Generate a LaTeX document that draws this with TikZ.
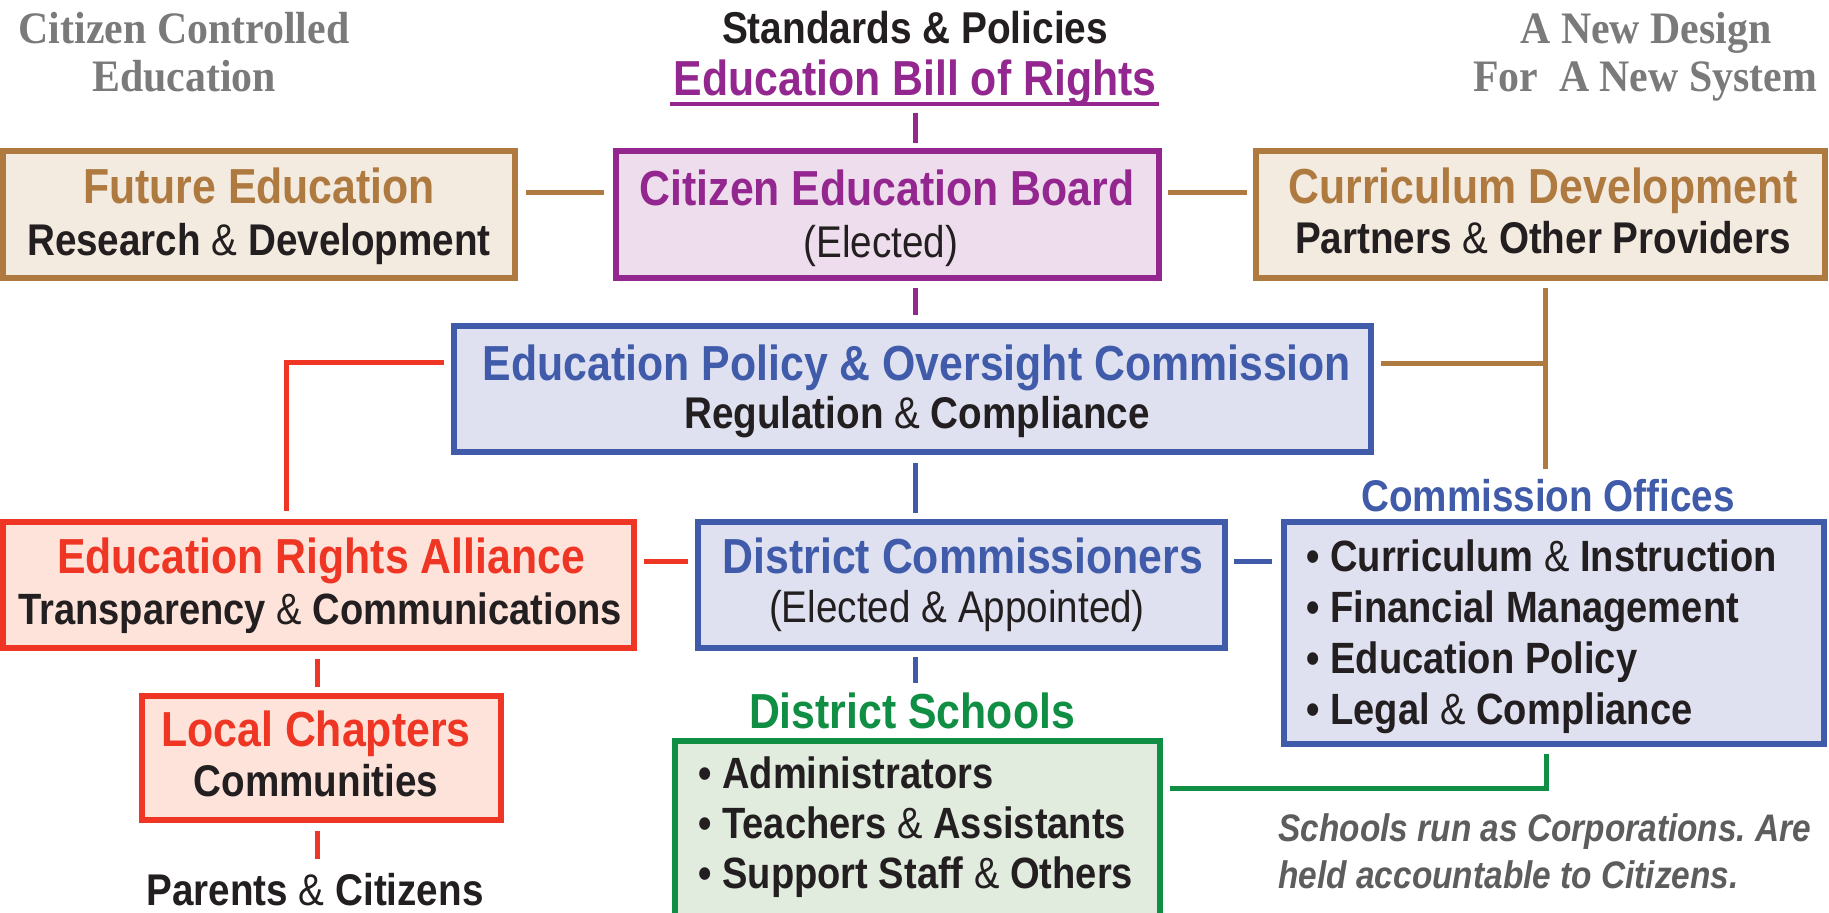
\documentclass[tikz,border=0pt]{standalone}
\usepackage{fontspec}
\setmainfont{Liberation Sans}[FakeStretch=0.87]
\newfontfamily\serifhead{Liberation Serif}[FakeStretch=0.93]
\frenchspacing
\definecolor{cbrown}{HTML}{AE7A40}
\definecolor{fbrown}{HTML}{F3EAE0}
\definecolor{cpurple}{HTML}{93278F}
\definecolor{fpurple}{HTML}{EEDEED}
\definecolor{cblue}{HTML}{3F5BA9}
\definecolor{fblue}{HTML}{DFE1F1}
\definecolor{cred}{HTML}{EF3524}
\definecolor{fred}{HTML}{FDE3D9}
\definecolor{cgreen}{HTML}{108E44}
\definecolor{fgreen}{HTML}{E1ECDF}
\definecolor{cblack}{HTML}{231F20}
\definecolor{cgrayhead}{HTML}{7A7A7A}
\definecolor{cgraynote}{HTML}{5D5D5D}
\begin{document}
\begin{tikzpicture}[x=0.5pt,y=-0.5pt,
  orgbox/.style={draw, line width=3pt, outer sep=1.5pt, inner sep=0pt},
  brownbox/.style={orgbox, draw=cbrown, fill=fbrown},
  purplebox/.style={orgbox, draw=cpurple, fill=fpurple},
  bluebox/.style={orgbox, draw=cblue, fill=fblue},
  redbox/.style={orgbox, draw=cred, fill=fred},
  greenbox/.style={orgbox, draw=cgreen, fill=fgreen},
  ttl/.style={anchor=base, inner sep=0pt, font=\fontsize{24.6}{26}\selectfont\bfseries},
  sub/.style={anchor=base, inner sep=0pt, text=cblack, font=\fontsize{22.2}{24}\selectfont},
  item/.style={anchor=base west, inner sep=0pt, text=cblack, font=\fontsize{21.9}{24}\selectfont},
  head/.style={anchor=base, inner sep=0pt, text=cgrayhead, font=\fontsize{22.5}{24}\selectfont\serifhead\bfseries},
  note/.style={anchor=base west, inner sep=0pt, text=cgraynote, font=\fontsize{19.2}{21}\selectfont\bfseries\itshape},
  conn/.style={line width=2.5pt, line join=miter, line cap=butt},
  pconn/.style={conn, draw=cpurple},
  bconn/.style={conn, draw=cblue},
  brconn/.style={conn, draw=cbrown},
  rconn/.style={conn, draw=cred},
  gconn/.style={conn, draw=cgreen}]
\useasboundingbox (0,0) rectangle (1829,912);

% corner headings
\node[head] (h1) at (184,43) {Citizen Controlled};
\node[head] (h2) at (184,91) {Education};
\node[head] (h3) at (1646,43) {A New Design};
\node[head] (h4) at (1645,91) {For\ \ A New System};

% top titles
\node[sub, font=\fontsize{22.3}{24}\selectfont\bfseries] (std) at (915,43) {Standards \& Policies};
\node[ttl, text=cpurple] (bill) at (915,95) {Education Bill of Rights};
\draw[cpurple, line width=2pt] ([xshift=-1.5pt,yshift=-4.5pt]bill.base west) -- ([xshift=1pt,yshift=-4.5pt]bill.base east);
\coordinate (billbar) at (915,104);

% boxes
\node[brownbox, minimum width=256pt, minimum height=63.5pt] (fut) at (259,214.5) {};
\node[purplebox, minimum width=271.5pt, minimum height=63.5pt] (ceb) at (887.5,214.5) {};
\node[brownbox, minimum width=284.5pt, minimum height=63.5pt] (cur) at (1540.5,214.5) {};
\node[bluebox, minimum width=458.5pt, minimum height=63pt] (epoc) at (912.5,389) {};
\node[redbox, minimum width=315.5pt, minimum height=63pt] (era) at (318.5,585) {};
\node[bluebox, minimum width=263.5pt, minimum height=63pt] (dc) at (961.5,585) {};
\node[bluebox, minimum width=270pt, minimum height=111pt] (co) at (1554,633) {};
\node[redbox, minimum width=179.5pt, minimum height=62pt] (lc) at (321.5,758) {};
\node[greenbox, minimum width=242.5pt, minimum height=93pt] (ds) at (917.5,834) {};

% box texts
\node[ttl, text=cbrown] (futA) at (259,203) {Future Education};
\node[sub] (futB) at (259,255) {\textbf{Research} \& \textbf{Development}};
\node[ttl, text=cpurple] (cebA) at (887,205) {Citizen Education Board};
\node[sub] (cebB) at (881,257) {(Elected)};
\node[ttl, text=cbrown] (curA) at (1543,203) {Curriculum Development};
\node[sub] (curB) at (1543,253) {\textbf{Partners} \& \textbf{Other Providers}};
\node[ttl, text=cblue] (epocA) at (917,380) {Education Policy \& Oversight Commission};
\node[sub] (epocB) at (917,428) {\textbf{Regulation} \& \textbf{Compliance}};
\node[ttl, text=cred] (eraA) at (321,573) {Education Rights Alliance};
\node[sub, font=\fontsize{21.9}{24}\selectfont] (eraB) at (320,624) {\textbf{Transparency} \& \textbf{Communications}};
\node[ttl, text=cblue] (dcA) at (963,573) {District Commissioners};
\node[sub] (dcB) at (957,622) {(Elected \& Appointed)};
\node[sub, text=cblue, font=\fontsize{22.2}{24}\selectfont\bfseries] (coT) at (1548,511) {Commission Offices};
\node[item] (co1) at (1306,571) {\textbf{• Curriculum} \& \textbf{Instruction}};
\node[item] (co2) at (1306,622) {\textbf{• Financial Management}};
\node[item] (co3) at (1306,673) {\textbf{• Education Policy}};
\node[item] (co4) at (1306,724) {\textbf{• Legal} \& \textbf{Compliance}};
\node[ttl, text=cred] (lcA) at (316,746) {Local Chapters};
\node[sub] (lcB) at (316,796) {\textbf{Communities}};
\node[sub] (par) at (315,905) {\textbf{Parents} \& \textbf{Citizens}};
\node[ttl, text=cgreen] (dsT) at (912,728) {District Schools};
\node[item] (ds1) at (698,788) {\textbf{• Administrators}};
\node[item] (ds2) at (698,838) {\textbf{• Teachers} \& \textbf{Assistants}};
\node[item] (ds3) at (698,888) {\textbf{• Support Staff} \& \textbf{Others}};
\node[note] (n1) at (1278,841) {Schools run as Corporations. Are};
\node[note] (n2) at (1278,888) {held accountable to Citizens.};

% free-end coordinates
\coordinate (dsTop) at (915,683);
\coordinate (coTop) at (1545,469);
\coordinate (parTop) at (317,859);
\coordinate (brj) at (1545,363);
\coordinate (rj) at (286,362);
\coordinate (rx) at (317,0);
\coordinate (gx) at (1546,0);

% connectors
\draw[pconn, shorten <=4.5pt, shorten >=2.5pt] (billbar) -- (billbar |- ceb.north);
\draw[pconn, shorten <=3.5pt, shorten >=4pt] (billbar |- ceb.south) -- (billbar |- epoc.north);
\draw[bconn, shorten <=4pt, shorten >=3pt] (billbar |- epoc.south) -- (billbar |- dc.north);
\draw[bconn, shorten <=3pt] (billbar |- dc.south) -- (dsTop);
\draw[brconn, shorten <=4pt, shorten >=4.5pt] (fut.east |- 0,192) -- (ceb.west |- 0,192);
\draw[brconn, shorten <=3pt, shorten >=3pt] (ceb.east |- 0,192) -- (cur.west |- 0,192);
\draw[brconn, shorten <=3.5pt] (cur.south -| brj) -- (coTop);
\draw[brconn, shorten <=3.5pt] (epoc.east |- brj) -- (brj);
\draw[rconn, shorten <=3.5pt, shorten >=4pt] (epoc.west |- rj) -- (rj) -- (rj |- era.north);
\draw[rconn, shorten <=3.5pt, shorten >=3.5pt] (era.east |- 0,561) -- (dc.west |- 0,561);
\draw[bconn, shorten <=3pt, shorten >=4.5pt] (dc.east |- 0,561) -- (co.west |- 0,561);
\draw[rconn, shorten <=4pt, shorten >=3pt] (era.south -| rx) -- (lc.north -| rx);
\draw[rconn, shorten <=4pt] (lc.south -| rx) -- (parTop);
\draw[gconn, shorten <=3.5pt, shorten >=3.5pt] (ds.east |- 0,788) -| (co.south -| gx);
\end{tikzpicture}
\end{document}
